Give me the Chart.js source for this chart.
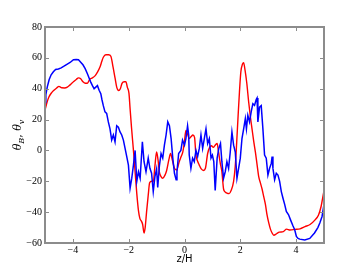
<!DOCTYPE html>
<html>
<head>
<meta charset="utf-8">
<script src="https://cdn.jsdelivr.net/npm/chart.js@4/dist/chart.umd.min.js"></script>
<style>
  html, body { margin: 0; padding: 0; background: #fff; }
  #wrap { position: relative; width: 360px; height: 270px; }
</style>
</head>
<body>
<div id="wrap"><canvas id="chart"></canvas></div>
<script>
// ---- Data ----
const redZ = [-5.0, -4.93, -4.86, -4.76, -4.68, -4.58, -4.5, -4.4, -4.3, -4.2, -4.1, -3.98, -3.88, -3.8, -3.72, -3.64,
  -3.55, -3.48, -3.4, -3.3, -3.2, -3.12, -3.03, -2.96, -2.91, -2.82, -2.72, -2.64, -2.56, -2.49, -2.43, -2.36, -2.3,
  -2.24, -2.16, -2.1, -2.05, -1.99, -1.95, -1.9, -1.83, -1.77, -1.71, -1.65, -1.6, -1.54, -1.5, -1.45, -1.41, -1.36,
  -1.3, -1.25, -1.18, -1.12, -1.06, -1.0, -0.95, -0.9, -0.84, -0.78, -0.7, -0.64, -0.56, -0.5, -0.44, -0.36, -0.28,
  -0.2, -0.12, -0.06, 0.0, 0.05, 0.12, 0.17, 0.24, 0.3, 0.36, 0.41, 0.47, 0.53, 0.6, 0.68, 0.75, 0.83, 0.9, 0.97,
  1.03, 1.1, 1.17, 1.22, 1.28, 1.34, 1.4, 1.46, 1.52, 1.6, 1.67, 1.76, 1.82, 1.87, 1.92, 1.97, 2.02, 2.08, 2.12,
  2.17, 2.23, 2.3, 2.36, 2.42, 2.48, 2.54, 2.6, 2.66, 2.72, 2.78, 2.84, 2.9, 2.96, 3.02, 3.08, 3.14, 3.2, 3.3, 3.4,
  3.54, 3.66, 3.78, 3.96, 4.14, 4.32, 4.5, 4.68, 4.8, 4.9, 4.95, 5.0];
const redTheta = [26, 31, 34.6, 37.5, 39, 40.5, 41.5, 40.6, 40.5, 41, 42.5, 44.5, 46, 47, 46.5, 44.5,
  43.5, 43.5, 46, 47, 48.5, 50.7, 54, 58, 60.4, 62, 62, 61, 54, 47, 41, 38.8, 40,
  43.5, 44.5, 44.5, 41, 37, 27, 15, 0, -14, -28, -39, -44, -46, -48, -53.5, -50, -40,
  -29, -21, -20, -20.5, -10, -1, -6, -14, -17, -18, -16, -13, -6, -2, -6, -11.6, -12.7,
  -8, -4, -1, 6, 13, 10, 7.7, 9, 10, 8.5, -3, -7, -9.5, -12, -13, -11.6, -2, 2, 3,
  2, 3.4, 4.5, -1, -8, -13.8, -25, -27, -27.7, -28, -26, -20, -10, 5, 22, 38, 51, 56, 56.8,
  52, 44, 31.4, 22, 14, 6, -1, -9, -17, -21, -25, -30, -35, -42, -47, -51, -53.5, -55, -54, -53,
  -52.6, -51, -51.6, -51.2, -50.8, -49.4, -48, -45, -42, -36, -31, -26];

const blueZ = [-5.0, -4.97, -4.92, -4.85, -4.78, -4.7, -4.62, -4.52, -4.42, -4.32, -4.2, -4.1, -3.98, -3.88, -3.8,
  -3.72, -3.64, -3.56, -3.48, -3.42, -3.36, -3.3, -3.24, -3.18, -3.12, -3.06, -3.0, -2.96, -2.91, -2.85, -2.79,
  -2.73, -2.67, -2.61, -2.55, -2.49, -2.43, -2.37, -2.31, -2.25, -2.19, -2.13, -2.07, -2.01, -1.95, -1.89, -1.83,
  -1.77, -1.71, -1.65, -1.59, -1.51, -1.45, -1.38, -1.3, -1.24, -1.18, -1.12, -1.06, -1.0, -0.96, -0.9, -0.84,
  -0.78, -0.72, -0.66, -0.6, -0.54, -0.48, -0.42, -0.36, -0.3, -0.27, -0.21, -0.13, -0.07, 0.0, 0.05, 0.11, 0.15,
  0.17, 0.23, 0.29, 0.35, 0.41, 0.47, 0.53, 0.59, 0.65, 0.71, 0.77, 0.83, 0.89, 0.95, 1.0, 1.05, 1.1, 1.17, 1.23,
  1.29, 1.34, 1.4, 1.46, 1.52, 1.58, 1.64, 1.7, 1.76, 1.82, 1.88, 1.94, 2.0, 2.06, 2.12, 2.18, 2.22, 2.27, 2.33,
  2.39, 2.45, 2.51, 2.57, 2.6, 2.63, 2.69, 2.75, 2.81, 2.87, 2.93, 2.99, 3.05, 3.11, 3.14, 3.17, 3.23, 3.29, 3.35,
  3.41, 3.47, 3.53, 3.59, 3.65, 3.73, 3.8, 3.89, 3.95, 4.01, 4.07, 4.13, 4.31, 4.49, 4.66, 4.78, 4.85, 4.93, 5.0];
const blueTheta = [31, 36, 41, 46, 49, 51, 52.5, 52.8, 53.5, 54.6, 56, 57, 58.8, 59, 58.8,
  57.2, 55.5, 53, 49.7, 47, 44.3, 42, 40, 41, 42, 39, 36.8, 33, 29, 25, 24,
  18.5, 14, 6.7, 10, 5.6, 16, 15, 12, 10, 6.7, 1.3, -4, -9.5, -24.5, -18, -9.5,
  0, -20, -13.8, -18, 5.6, -7.3, -13.8, -5, -11.6, -14.8, -26.7, -17, -12, -24, -10, -2,
  -5, 3.4, 10, 18.5, 16, 7.7, -5, -14.8, -19, -13.8, -2, 0, 6.7, 3.4, 7.7, 16, 10,
  -3, -11.6, -5, -7.3, 0, -4, 1.3, 10, 1.3, 7.7, 14, 4.5, 7.7, -5, -3, -7.3, -26, -5, 1.3,
  4.5, -7.3, -18, -13.8, -7.3, -11.6, -1, 12, 3.4, -1, -18, -11.6, -5, 7.7, 14, 20.6, 14, 22.8, 18.5,
  25, 30.3, 29.2, 33, 34, 18.5, 28, 29, 14, -3, -5, -16, -11.6, -8.4, -4, -11.6, -19, -14.8, -16,
  -20, -26.7, -31, -35, -39.6, -41.7, -45, -49, -51.4, -55.7, -57, -57.5, -58, -57, -53.5, -50, -47, -42.8, -35];

const xTicks = [-4, -2, 0, 2, 4];
const yTicks = [-60, -40, -20, 0, 20, 40, 60, 80];

const toPoints = (xs, ys) => xs.map((x, i) => ({ x: x, y: ys[i] }));
const fmt = v => String(v).replace('-', '\u2212');

// ---- Frame with inward ticks on all four sides (matplotlib look) ----
const framePlugin = {
  id: 'frame',
  afterDatasetsDraw(chart) {
    const { ctx, chartArea: a, scales } = chart;
    const tl = 4;
    ctx.save();
    ctx.strokeStyle = '#8c8c8c';
    ctx.lineWidth = 1;
    ctx.beginPath();
    xTicks.forEach(v => {
      const px = Math.round(scales.x.getPixelForValue(v)) + 0.5;
      ctx.moveTo(px, a.bottom); ctx.lineTo(px, a.bottom - tl);
      ctx.moveTo(px, a.top); ctx.lineTo(px, a.top + tl);
    });
    yTicks.forEach(v => {
      const py = Math.round(scales.y.getPixelForValue(v)) + 0.5;
      ctx.moveTo(a.left, py); ctx.lineTo(a.left + tl, py);
      ctx.moveTo(a.right, py); ctx.lineTo(a.right - tl, py);
    });
    ctx.stroke();
    ctx.lineWidth = 2;
    ctx.strokeRect(a.left, a.top, a.right - a.left, a.bottom - a.top);
    ctx.restore();
  }
};

// ---- Y label with subscripts: theta_B, theta_v ----
const yLabelPlugin = {
  id: 'ylabel',
  afterDraw(chart) {
    const { ctx, chartArea: a } = chart;
    const big = 'italic 11px "DejaVu Serif"';
    const small = 'italic 8px "DejaVu Serif"';
    const parts = [
      { t: '\u03b8', f: big, dy: 0 },
      { t: 'B', f: small, dy: 3 },
      { t: ', ', f: '11px "DejaVu Serif"', dy: 0 },
      { t: '\u03b8', f: big, dy: 0 },
      { t: 'v', f: small, dy: 3 }
    ];
    ctx.save();
    let w = 0;
    parts.forEach(p => { ctx.font = p.f; p.w = ctx.measureText(p.t).width; w += p.w; });
    ctx.translate(21, (a.top + a.bottom) / 2);
    ctx.rotate(-Math.PI / 2);
    ctx.fillStyle = '#000';
    ctx.textBaseline = 'alphabetic';
    let x = -w / 2;
    parts.forEach(p => {
      ctx.font = p.f;
      ctx.fillText(p.t, x, p.dy);
      x += p.w;
    });
    ctx.restore();
  }
};

new Chart(document.getElementById('chart'), {
  type: 'line',
  data: {
    datasets: [
      {
        label: 'blue',
        data: toPoints(blueZ, blueTheta),
        borderColor: '#0000ff',
        borderWidth: 1.5,
        pointRadius: 0,
        tension: 0
      },
      {
        label: 'red',
        data: toPoints(redZ, redTheta),
        borderColor: '#ff0000',
        borderWidth: 1.4,
        pointRadius: 0,
        cubicInterpolationMode: 'monotone'
      }
    ]
  },
  options: {
    responsive: true,
    maintainAspectRatio: false,
    animation: false,
    devicePixelRatio: 1,
    layout: { padding: { left: 0, right: 36, top: 27, bottom: 0 } },
    plugins: { legend: { display: false }, tooltip: { enabled: false } },
    scales: {
      x: {
        type: 'linear',
        min: -5, max: 5,
        grid: { display: false, drawTicks: false },
        border: { display: false },
        afterBuildTicks: s => { s.ticks = xTicks.map(v => ({ value: v })); },
        afterFit: s => { s.height = 27; },
        ticks: {
          padding: 1,
          maxRotation: 0,
          color: '#000',
          font: { family: 'Liberation Serif', size: 10 },
          callback: v => fmt(v)
        },
        title: {
          display: true,
          text: 'z/H',
          color: '#000',
          font: { family: 'DejaVu Sans', size: 10 },
          padding: { top: 0, bottom: 5 }
        }
      },
      y: {
        min: -60, max: 80,
        grid: { display: false, drawTicks: false },
        border: { display: false },
        afterBuildTicks: s => { s.ticks = yTicks.map(v => ({ value: v })); },
        afterFit: s => { s.width = 45; },
        ticks: {
          padding: 3,
          color: '#000',
          font: { family: 'Liberation Serif', size: 10 },
          callback: v => fmt(v)
        }
      }
    }
  },
  plugins: [framePlugin, yLabelPlugin]
});
</script>
</body>
</html>
